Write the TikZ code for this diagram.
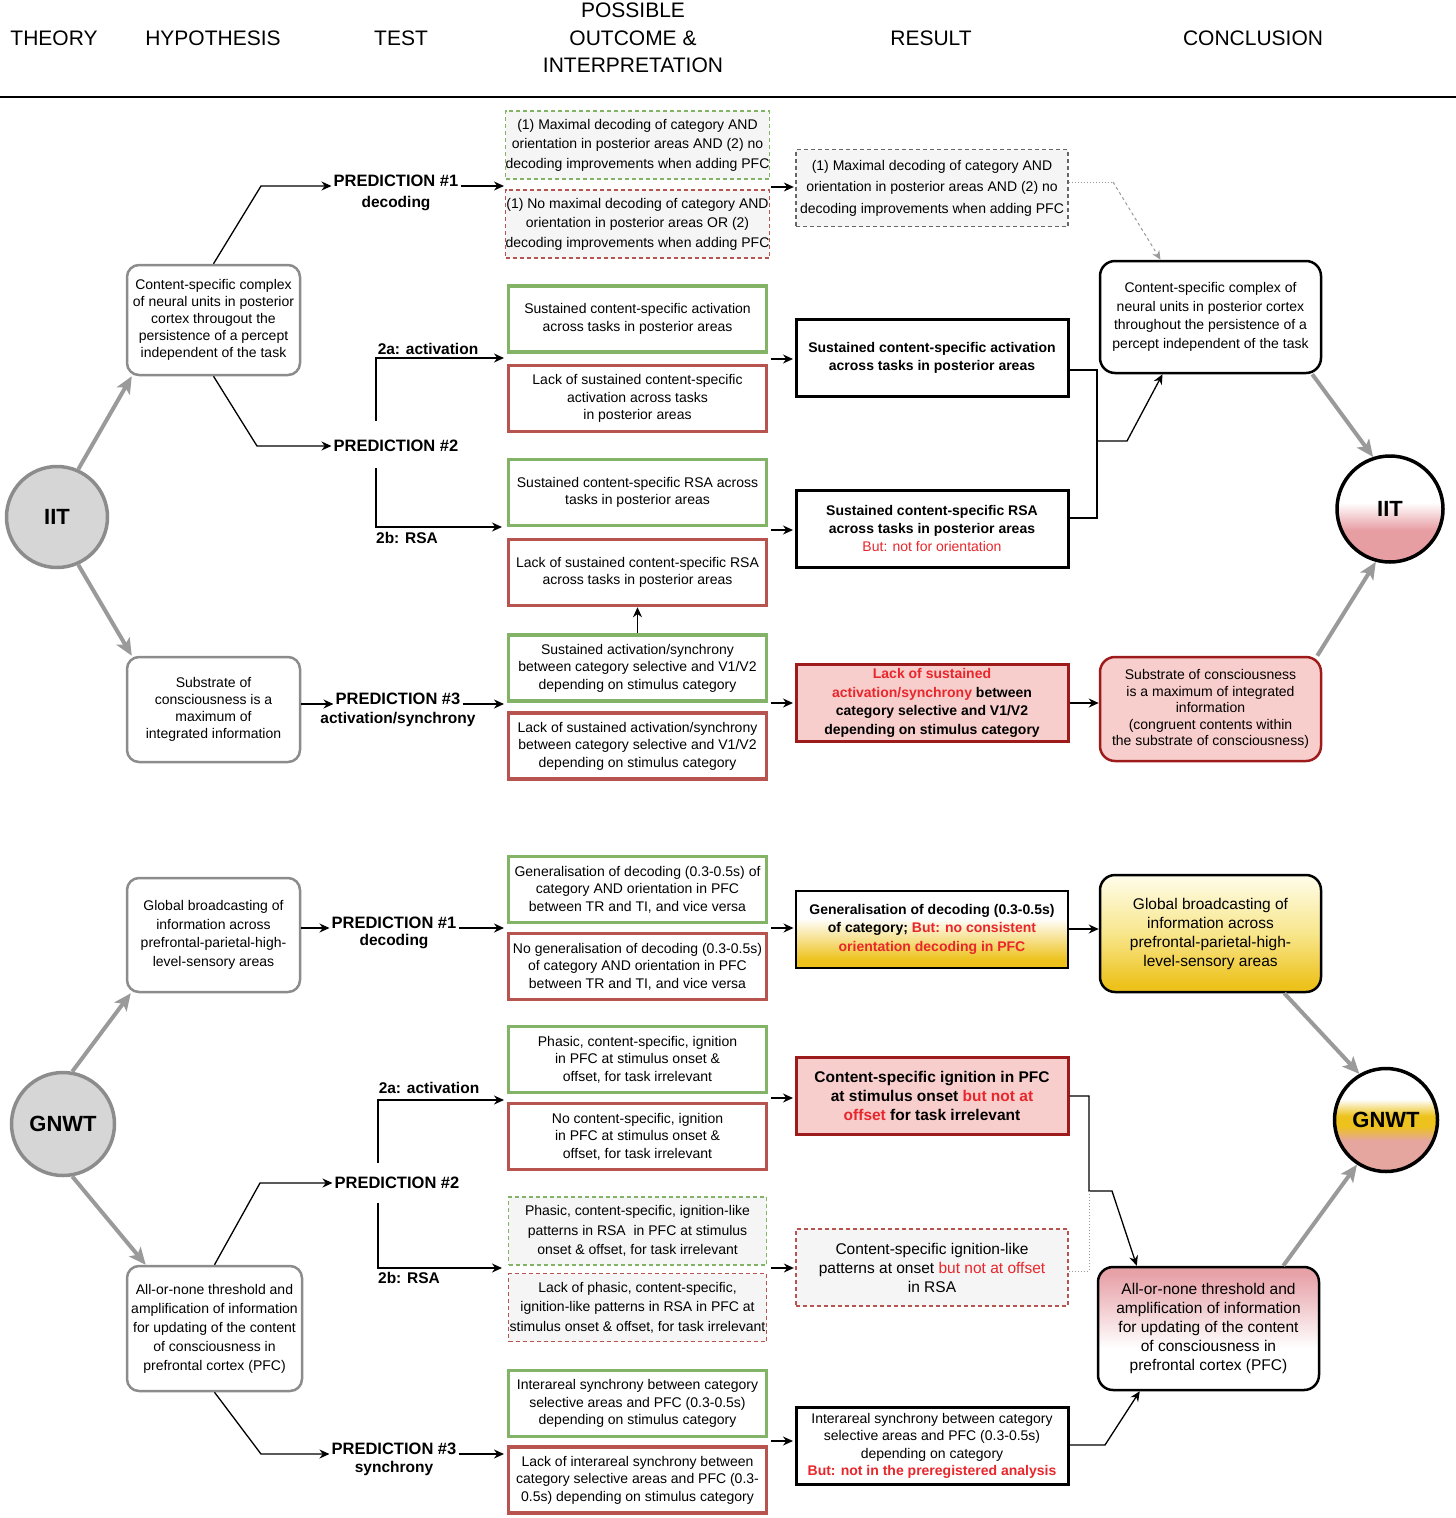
\documentclass[tikz,border=0pt]{standalone}
\usepackage{fontspec}
\setmainfont{Liberation Sans}
\usetikzlibrary{arrows.meta,positioning}

\definecolor{okgreen}{HTML}{82B366}
\definecolor{nored}{HTML}{B85450}
\definecolor{darkred}{HTML}{9E1B1B}
\definecolor{pinkfill}{HTML}{F8CECC}
\definecolor{dashfill}{HTML}{F5F5F5}
\definecolor{dashgray}{HTML}{666666}
\definecolor{circfill}{HTML}{D6D6D6}
\definecolor{circline}{HTML}{8C8C8C}
\definecolor{arrowgray}{HTML}{9A9A9A}
\definecolor{redtext}{HTML}{E8262B}
\definecolor{goldc}{HTML}{EDC21C}
\definecolor{iitpink}{HTML}{E79EA3}
\definecolor{gnpink}{HTML}{E4A69E}
\definecolor{cpink}{HTML}{E7A2A8}
\definecolor{paleyellow}{HTML}{F8E68C}
\definecolor{cream}{HTML}{FFFDEA}

\pgfdeclareverticalshading{iitshade}{100bp}{color(0bp)=(iitpink); color(40bp)=(iitpink); color(53bp)=(white); color(100bp)=(white)}
\pgfdeclareverticalshading{gnwtshade}{100bp}{color(0bp)=(gnpink); color(40bp)=(gnpink); color(47bp)=(goldc); color(52bp)=(goldc); color(60bp)=(white); color(100bp)=(white)}
\pgfdeclareverticalshading{resshade}{100bp}{color(0bp)=(goldc); color(30bp)=(goldc); color(57bp)=(white); color(100bp)=(white)}
\pgfdeclareverticalshading{goldshade}{100bp}{color(0bp)=(goldc); color(28bp)=(goldc); color(50bp)=(paleyellow); color(75bp)=(cream); color(100bp)=(cream)}
\pgfdeclareverticalshading{pinkshade}{100bp}{color(0bp)=(white); color(42bp)=(white); color(72bp)=(cpink); color(100bp)=(cpink)}

\newcommand{\redtxt}[1]{\textcolor{redtext}{#1}}

\begin{document}
\begin{tikzpicture}[x=1pt,y=-1pt,
  colhead/.style={font=\fontsize{21}{27.5}\selectfont, align=center, inner sep=0pt},
  theo/.style={circle, draw=circline, fill=circfill, line width=3.5pt, minimum size=101pt, inner sep=0pt, font=\fontsize{22}{26}\selectfont\bfseries},
  theoend/.style={circle, draw=black, line width=3.5pt, minimum size=103pt, inner sep=0pt, shade, font=\fontsize{22}{26}\selectfont\bfseries},
  hyp/.style={draw=circline, line width=2.5pt, rounded corners=12pt, fill=white, minimum width=173pt, align=center, inner sep=0pt, font=\fontsize{14}{17}\selectfont},
  pred/.style={font=\fontsize{16.5}{20}\selectfont\bfseries, inner sep=2pt},
  predsub/.style={font=\fontsize{15.5}{19}\selectfont\bfseries, inner sep=2pt},
  branch/.style={font=\fontsize{15.5}{19}\selectfont\bfseries, inner sep=0pt},
  outbox/.style={minimum width=258pt, minimum height=66pt, align=center, inner sep=0pt, fill=white, font=\fontsize{14}{17.5}\selectfont},
  okbox/.style={outbox, draw=okgreen, line width=3.5pt},
  nobox/.style={outbox, draw=nored, line width=3.5pt},
  okdash/.style={outbox, minimum height=68pt, fill=dashfill, draw=okgreen, line width=1.3pt, dash pattern=on 4pt off 3pt, font=\fontsize{14}{19.5}\selectfont},
  nodash/.style={okdash, draw=nored},
  resbox/.style={minimum width=272pt, minimum height=77pt, align=center, inner sep=0pt, draw=black, line width=3pt, fill=white, font=\fontsize{14}{18}\selectfont\bfseries},
  resdash/.style={resbox, fill=dashfill, draw=dashgray, line width=1.3pt, dash pattern=on 4pt off 3pt, font=\fontsize{14}{21.5}\selectfont},
  respink/.style={resbox, fill=pinkfill, draw=darkred, font=\fontsize{14}{18.7}\selectfont\bfseries},
  resgold/.style={resbox, line width=2pt, shade, shading=resshade, font=\fontsize{14}{18.5}\selectfont\bfseries},
  concbox/.style={draw=black, line width=2.5pt, rounded corners=15pt, minimum width=221pt, minimum height=112pt, align=center, inner sep=0pt, font=\fontsize{14}{18.5}\selectfont},
  wire/.style={draw=black, line width=1.3pt},
  conn/.style={wire, -{Stealth[length=10pt,width=9pt]}},
  dotwire/.style={draw=arrowgray, line width=1pt, dash pattern=on 1.5pt off 1.5pt},
  garrow/.style={draw=arrowgray, line width=4pt, -{Stealth[length=17pt,width=15pt,inset=4pt]}}]

  \useasboundingbox (0,0) rectangle (1456,1518);

  % column heads
  \node[colhead] (hTheory) at (54,38) {THEORY};
  \node[colhead] (hHyp) at (213,38) {HYPOTHESIS};
  \node[colhead] (hTest) at (401,38) {TEST};
  \node[colhead] (hOut) at (633,38) {POSSIBLE\\OUTCOME \&\\INTERPRETATION};
  \node[colhead] (hRes) at (931,38) {RESULT};
  \node[colhead] (hConc) at (1253,38) {CONCLUSION};
  \draw[line width=1.5pt] (0,97) -- (1456,97);                 % rule under heads

  %%%%%%%%%%%%%%%%%%%%%%%%%%%%%%%%%% IIT
  \node[theo] (iitL) at (57,517) {IIT};                          % theory
  \node[hyp, minimum height=110pt] (hyp1) at (213.5,320)
    {Content-specific complex\\of neural units in posterior\\cortex througout the\\persistence of a percept\\independent of the task};
  \node[hyp, minimum height=105pt] (hyp2) at (213.5,709.5)
    {Substrate of\\consciousness is a\\maximum of\\integrated information};

  \node[pred, anchor=base] (p1) at (396,186) {PREDICTION \#1};   % tests
  \node[predsub, below=6pt of p1] (p1s) {decoding};
  \node[pred] (p2) at (396,446) {PREDICTION \#2};
  \node[pred, anchor=base] (p3) at (398,704) {PREDICTION \#3};
  \node[predsub, below=4pt of p3] (p3s) {activation/synchrony};
  \node[branch] (l2a) at (428,349) {2a: activation};
  \node[branch] (l2b) at (407,538) {2b: RSA};

  % possible outcomes
  \node[okdash] (g1) at (637.5,145) {(1) Maximal decoding of category AND\\orientation in posterior areas AND (2) no\\decoding improvements when adding PFC};
  \node[nodash] (r1) at (637.5,224) {(1) No maximal decoding of category AND\\orientation in posterior areas OR (2)\\decoding improvements when adding PFC};
  \node[okbox] (g2a) at (637.5,319) {Sustained content-specific activation\\across tasks in posterior areas};
  \node[nobox] (r2a) at (637.5,398.5) {Lack of sustained content-specific\\activation across tasks\\in posterior areas};
  \node[okbox] (g2b) at (637.5,492.5) {Sustained content-specific RSA across\\tasks in posterior areas};
  \node[nobox] (r2b) at (637.5,572.5) {Lack of sustained content-specific RSA\\across tasks in posterior areas};
  \node[okbox] (g3) at (637.5,668) {Sustained activation/synchrony\\between category selective and V1/V2\\depending on stimulus category};
  \node[nobox] (r3) at (637.5,746) {Lack of sustained activation/synchrony\\between category selective and V1/V2\\depending on stimulus category};

  % results
  \node[resdash] (res1) at (932,188) {(1) Maximal decoding of category AND\\orientation in posterior areas AND (2) no\\decoding improvements when adding PFC};
  \node[resbox] (res2a) at (932,357.5) {Sustained content-specific activation\\across tasks in posterior areas};
  \node[resbox] (res2b) at (932,528.5) {Sustained content-specific RSA\\across tasks in posterior areas\\\redtxt{\mdseries But: not for orientation}};
  \node[respink] (res3) at (932,703) {\redtxt{Lack of sustained}\\\redtxt{activation/synchrony} between\\category selective and V1/V2\\depending on stimulus category};

  % conclusions
  \node[concbox, fill=white] (conc1) at (1210.5,317) {Content-specific complex of\\neural units in posterior cortex\\throughout the persistence of a\\percept independent of the task};
  \node[concbox, fill=pinkfill, draw=darkred, minimum height=104pt, font=\fontsize{14}{16.5}\selectfont] (conc2) at (1210.5,709) {Substrate of consciousness\\is a maximum of integrated\\information\\(congruent contents within\\the substrate of consciousness)};
  \node[theoend, shading=iitshade, minimum size=106pt] (iitR) at (1390,509) {IIT};

  % gaps where the arrows meet the outcome pairs
  \coordinate (in1) at (504,186);   \coordinate (out1) at (771,187);
  \coordinate (in2a) at (504,358);  \coordinate (out2a) at (771,359);
  \coordinate (in2b) at (502,527);  \coordinate (out2b) at (771,530);
  \coordinate (in3) at (504,704);   \coordinate (out3) at (771,703);
  \coordinate (k1) at (261,186);    \coordinate (k2) at (257,446);
  \coordinate (k2a) at (376,421);   \coordinate (k2b) at (376,468);
  \coordinate (d1) at (1113,182);
  \coordinate (m2) at (1097,441);   \coordinate (m2b) at (1127,441);

  \draw[garrow] (iitL.66) -- ([xshift=6pt]hyp1.south west);       % theory to hypotheses
  \draw[garrow] (iitL.-66) -- ([xshift=6pt]hyp2.north west);
  \draw[conn] (hyp1.north) -- (k1) -- (p1.base west);             % hypotheses to tests
  \draw[conn] (hyp1.south) -- (k2) -- (p2.west);
  \draw[conn] (hyp2.east |- p3.base west) -- (p3.base west);
  \draw[conn] (p1.base east) -- (in1);                             % tests to outcomes
  \draw[conn] (k2a) |- (in2a);
  \draw[conn] (k2b) |- (in2b);
  \draw[conn] (p3.base east) -- (in3);
  \draw[conn] (g3.north) -- (r2b.south);
  \draw[conn, shorten >=1.5pt] (out1) -- (out1 -| res1.west);      % outcomes to results
  \draw[conn, shorten >=1.5pt] (out2a) -- (out2a -| res2a.west);
  \draw[conn, shorten >=1.5pt] (out2b) -- (out2b -| res2b.west);
  \draw[conn, shorten >=1.5pt] (out3) -- (out3 -| res3.west);
  \draw[dotwire] ([yshift=6pt]res1.east) -- (d1);                  % results to conclusions
  \draw[draw=arrowgray, line width=1pt, dashed, -{Stealth[length=9pt,width=8pt]}] (d1) -- ([xshift=-50pt]conc1.north);
  \draw[wire] ([yshift=-12.5pt]res2a.east) -| (m2) |- ([yshift=10.5pt]res2b.east);
  \draw[conn] (m2) -- (m2b) -- ([xshift=-48pt]conc1.south);
  \draw[conn] (res3.east) -- (res3.east -| conc2.west);
  \draw[garrow] ([xshift=-10pt]conc1.south east) -- (iitR.108);   % conclusions to theory
  \draw[garrow] ([xshift=-5pt]conc2.north east) -- (iitR.-105);

  %%%%%%%%%%%%%%%%%%%%%%%%%%%%%%%%%% GNWT
  \node[theo, minimum size=103pt] (gnwtL) at (63,1124) {GNWT};
  \node[hyp, minimum height=114pt, font=\fontsize{14}{18.7}\selectfont] (hyp3) at (213.5,935)
    {Global broadcasting of\\information across\\prefrontal-parietal-high-\\level-sensory areas};
  \node[hyp, minimum height=125pt, minimum width=175pt, font=\fontsize{14}{19}\selectfont] (hyp4) at (214.5,1328.5)
    {All-or-none threshold and\\amplification of information\\for updating of the content\\of consciousness in\\prefrontal cortex (PFC)};

  \node[pred, anchor=base] (p4) at (394,928) {PREDICTION \#1};
  \node[predsub, below=2pt of p4] (p4s) {decoding};
  \node[pred] (p5) at (397,1183) {PREDICTION \#2};
  \node[pred, anchor=base] (p7) at (394,1454) {PREDICTION \#3};
  \node[predsub, below=3pt of p7] (p7s) {synchrony};
  \node[branch] (l5a) at (429,1088) {2a: activation};
  \node[branch] (l5b) at (409,1278) {2b: RSA};

  \node[okbox] (g4) at (637.5,889.5) {Generalisation of decoding (0.3-0.5s) of\\category AND orientation in PFC\\between TR and TI, and vice versa};
  \node[nobox] (r4) at (637.5,966.5) {No generalisation of decoding (0.3-0.5s)\\of category AND orientation in PFC\\between TR and TI, and vice versa};
  \node[okbox] (g5) at (637.5,1059.5) {Phasic, content-specific, ignition\\in PFC at stimulus onset \&\\offset, for task irrelevant};
  \node[nobox] (r5) at (637.5,1136.5) {No content-specific, ignition\\in PFC at stimulus onset \&\\offset, for task irrelevant};
  \node[okdash] (g6) at (637.5,1231) {Phasic, content-specific, ignition-like\\patterns in RSA\ \ in PFC at stimulus\\onset \& offset, for task irrelevant};
  \node[nodash] (r6) at (637.5,1307.5) {Lack of phasic, content-specific,\\ignition-like patterns in RSA in PFC at\\stimulus onset \& offset, for task irrelevant};
  \node[okbox] (g7) at (637.5,1403.5) {Interareal synchrony between category\\selective areas and PFC (0.3-0.5s)\\depending on stimulus category};
  \node[nobox] (r7) at (637.5,1480) {Lack of interareal synchrony between\\category selective areas and PFC (0.3-\\0.5s) depending on stimulus category};

  \node[resgold] (res4) at (932,929) {Generalisation of decoding (0.3-0.5s)\\of category; \redtxt{But: no consistent}\\\redtxt{orientation decoding in PFC}};
  \node[respink, font=\fontsize{15.5}{19}\selectfont\bfseries] (res5) at (932,1096) {Content-specific ignition in PFC\\at stimulus onset \redtxt{but not at}\\\redtxt{offset} for task irrelevant};
  \node[resdash, draw=nored, font=\fontsize{15.5}{19}\selectfont] (res6) at (932,1267.5) {Content-specific ignition-like\\patterns at onset \redtxt{but not at offset}\\in RSA};
  \node[resbox, font=\fontsize{14}{17.5}\selectfont] (res7) at (932,1446) {Interareal synchrony between category\\selective areas and PFC (0.3-0.5s)\\depending on category\\\redtxt{\bfseries But: not in the preregistered analysis}};

  \node[concbox, shade, shading=goldshade, minimum height=117pt, font=\fontsize{15.5}{19}\selectfont] (conc3) at (1210.5,933.5) {Global broadcasting of\\information across\\prefrontal-parietal-high-\\level-sensory areas};
  \node[concbox, shade, shading=pinkshade, minimum height=123pt, font=\fontsize{15.5}{19}\selectfont] (conc4) at (1208.5,1328.5) {All-or-none threshold and\\amplification of information\\for updating of the content\\of consciousness in\\prefrontal cortex (PFC)};
  \node[theoend, shading=gnwtshade] (gnwtR) at (1386,1120) {GNWT};

  \coordinate (in4) at (504,928);   \coordinate (out4) at (771,928);
  \coordinate (in5) at (504,1100);  \coordinate (out5) at (771,1098);
  \coordinate (in6) at (502,1268);  \coordinate (out6) at (771,1268);
  \coordinate (in7) at (504,1454);  \coordinate (out7) at (771,1441);
  \coordinate (k5) at (260,1183);   \coordinate (k7) at (261,1454);
  \coordinate (k5a) at (378,1163);  \coordinate (k5b) at (378,1203);
  \coordinate (m5) at (1089,1191);  \coordinate (m5b) at (1112,1191);
  \coordinate (m7) at (1105,1445);

  \draw[garrow] (gnwtL.80) -- ([xshift=5pt]hyp3.south west);
  \draw[garrow] (gnwtL.-80) -- ([xshift=20pt]hyp4.north west);
  \draw[conn] (hyp3.east |- p4.base west) -- (p4.base west);
  \draw[conn] (hyp4.north) -- (k5) -- (p5.west);
  \draw[conn] (hyp4.south) -- (k7) -- (p7.base west);
  \draw[conn] (p4.base east) -- (in4);
  \draw[conn] (k5a) |- (in5);
  \draw[conn] (k5b) |- (in6);
  \draw[conn] (p7.base east) -- (in7);
  \draw[conn, shorten >=1.5pt] (out4) -- (out4 -| res4.west);
  \draw[conn, shorten >=1.5pt] (out5) -- (out5 -| res5.west);
  \draw[conn, shorten >=1.5pt] (out6) -- (out6 -| res6.west);
  \draw[conn, shorten >=1.5pt] (out7) -- (out7 -| res7.west);
  \draw[conn] (res4.east) -- (res4.east -| conc3.west);
  \draw[conn] (res5.east) -| (m5) -- (m5b) -- ([xshift=40pt]conc4.north west);
  \draw[dotwire] ([yshift=-3.5pt]res6.east) -| (m5);
  \draw[conn] ([yshift=1pt]res7.east) -- (m7) -- ([xshift=43pt]conc4.south west);
  \draw[garrow] ([xshift=-38pt]conc3.south east) -- (gnwtR.120);
  \draw[garrow] ([xshift=-37pt]conc4.north east) -- (gnwtR.-123);

\end{tikzpicture}
\end{document}
